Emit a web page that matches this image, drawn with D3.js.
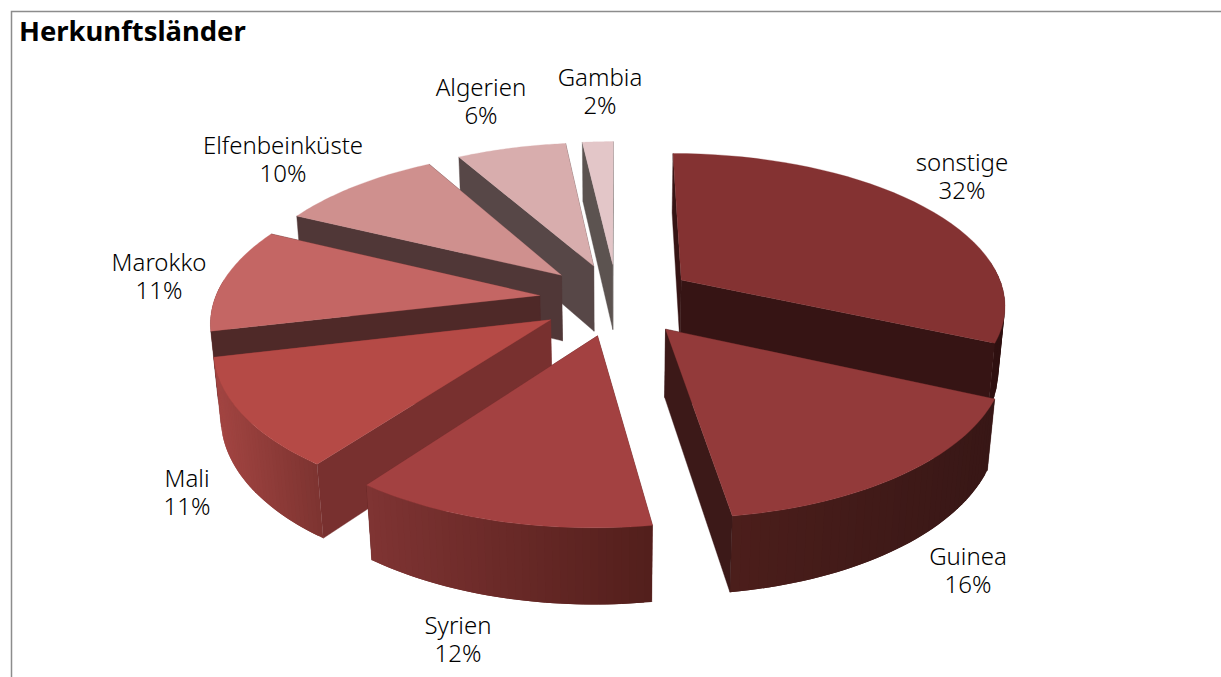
<!DOCTYPE html>
<html>
<head>
<meta charset="utf-8">
<script src="https://cdn.jsdelivr.net/npm/d3@7"></script>
<style>
  html, body { margin: 0; padding: 0; background: #fff; }
  svg { display: block; }
  text { font-family: "Noto Sans", sans-serif; fill: #000; }
</style>
</head>
<body>
<div id="chart"></div>
<script>
// Values, the slice edges show a bit more than the rounded labels
const categories = ['sonstige', 'Guinea', 'Syrien', 'Mali', 'Marokko', 'Elfenbeinküste', 'Algerien', 'Gambia'];
const shares = [31.7, 15.95, 12.45, 11.2, 10.9, 9.6, 6.4, 1.8];
const chartTitle = 'Herkunftsländer';

// Colours per slice: top face, flat cut walls, outer rim (left end, right end)
const topColors = ['#843232', '#933a3a', '#a34141', '#b54a46', '#c46664', '#cf908e', '#d8adad', '#e3c6c8'];
const wallColors = ['#361414', '#3c1918', '#5c2423', '#78302f', '#4f2928', '#503737', '#574747', '#5c5350'];
const rimLeftColors = ['#2f1010', '#4c1e1b', '#803433', '#a34542', '#8a4644', '#7a5654', '#6f5f5f', '#6a6060'];
const rimRightColors = ['#2f1010', '#381716', '#531f1c', '#7e3431', '#8a4644', '#7a5654', '#6f5f5f', '#6a6060'];

// Label centres (x, y of the first line)
const labelSpots = [[962, 171], [968, 565], [458, 634], [187, 487], [159, 271], [283, 154], [481, 96], [600, 86]];

const width = 1221;
const height = 677;

// Perspective of the pie: Y runs toward the viewer, depth runs down from the top face
const cx = 617;
const cy = 299.4;
const scaleX = 325;
const scaleY = 151;
const tilt = 0.15;
const thickness = 68;
const shrink = 0.018;
const explode = 0.24;
const steps = 40;

function project(x, y, depth) {
  const w = 1 - tilt * y + shrink * depth;
  return [cx + scaleX * x / w, cy + (scaleY * y + thickness * depth) / w];
}

const svg = d3.select('#chart').append('svg')
  .attr('width', width)
  .attr('height', height);

// Frame, only top and left show
svg.append('path')
  .attr('d', `M11.5,${height}V11.5H${width}`)
  .attr('fill', 'none')
  .attr('stroke', '#8c8c8c')
  .attr('stroke-width', 1.5);

svg.append('text')
  .attr('x', 19)
  .attr('y', 41)
  .attr('font-size', 27.4)
  .attr('font-weight', 700)
  .text(chartTitle);

const pie = d3.pie().value(d => d).sort(null);
const arcs = pie(shares).map((d, i) => {
  const mid = (d.startAngle + d.endAngle) / 2;
  return {
    index: i,
    startAngle: d.startAngle,
    endAngle: d.endAngle,
    ox: explode * Math.sin(mid),
    oy: -explode * Math.cos(mid)
  };
});

const line = d3.line();

function pointOn(s, a) {
  return [s.ox + Math.sin(a), s.oy - Math.cos(a)];
}

// One cut wall, side is -1 for the start edge and 1 for the end edge
function buildWall(s, a, side) {
  const p = pointOn(s, a);
  const nx = side * Math.cos(a);
  const ny = side * Math.sin(a);
  return {
    front: nx * (0 - s.ox) + ny * (1 / tilt - s.oy) > 0,
    pts: [project(s.ox, s.oy, 0), project(p[0], p[1], 0), project(p[0], p[1], 1), project(s.ox, s.oy, 1)]
  };
}

function drawWalls(g, walls, color) {
  g.selectAll(null).data(walls).enter().append('path')
    .attr('d', d => line(d.pts) + 'Z')
    .attr('fill', color)
    .attr('stroke', color)
    .attr('stroke-width', 0.4);
}

// Paint from the back to the front
const order = arcs.slice().sort((a, b) => a.oy - b.oy);

order.forEach(s => {
  const g = svg.append('g');
  const i = s.index;
  const angles = d3.range(steps + 1).map(k => s.startAngle + (s.endAngle - s.startAngle) * k / steps);
  const walls = [buildWall(s, s.startAngle, -1), buildWall(s, s.endAngle, 1)];

  // Walls turned away go first, the rim next, then the walls that face us
  drawWalls(g, walls.filter(d => !d.front), wallColors[i]);

  // Outer rim as narrow overlapping strips so the shading runs along it without seams
  const xs = angles.map(a => project(...pointOn(s, a), 0)[0]);
  const rimColor = d3.scaleLinear()
    .domain([d3.min(xs), d3.max(xs)])
    .range([rimLeftColors[i], rimRightColors[i]]);
  const strips = d3.range(steps)
    .map(k => ({ a0: angles[k], a1: angles[Math.min(k + 2, steps)] }))
    .filter(d => Math.cos((d.a0 + d.a1) / 2) < 0.1);

  g.selectAll('path.rim').data(strips).enter().append('path')
    .attr('class', 'rim')
    .attr('d', d => {
      const p0 = pointOn(s, d.a0);
      const p1 = pointOn(s, d.a1);
      return line([project(p0[0], p0[1], 0), project(p1[0], p1[1], 0), project(p1[0], p1[1], 1), project(p0[0], p0[1], 1)]) + 'Z';
    })
    .attr('fill', d => rimColor(project(...pointOn(s, d.a0), 0)[0]));

  drawWalls(g, walls.filter(d => d.front), wallColors[i]);

  // Top face
  const outline = [project(s.ox, s.oy, 0)].concat(angles.map(a => project(...pointOn(s, a), 0)));
  g.append('path')
    .attr('d', line(outline) + 'Z')
    .attr('fill', topColors[i])
    .attr('stroke', topColors[i])
    .attr('stroke-width', 0.3);
});

// Labels: name and rounded share on two lines
const labels = svg.selectAll('text.label').data(categories).enter().append('text')
  .attr('class', 'label')
  .attr('text-anchor', 'middle')
  .attr('font-size', 24)
  .attr('font-weight', 300);

labels.append('tspan')
  .attr('x', (d, i) => labelSpots[i][0])
  .attr('y', (d, i) => labelSpots[i][1])
  .text(d => d);

labels.append('tspan')
  .attr('x', (d, i) => labelSpots[i][0])
  .attr('dy', 27.5)
  .text((d, i) => d3.format('.0f')(shares[i]) + '%');
</script>
</body>
</html>
